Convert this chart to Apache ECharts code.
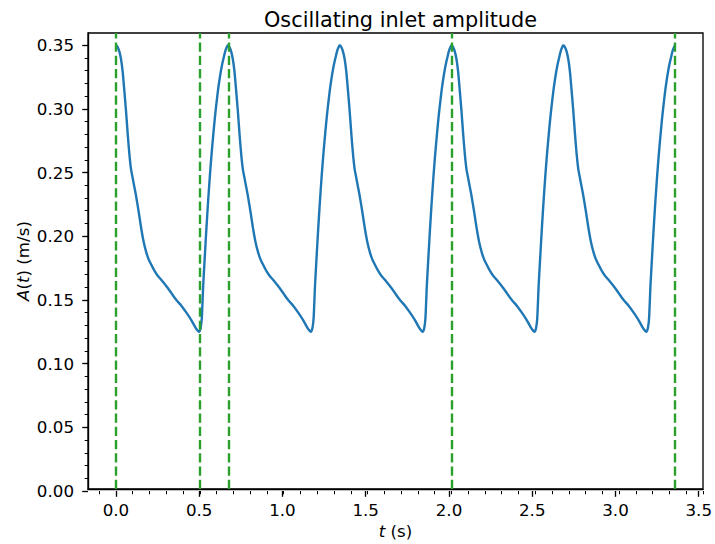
<!DOCTYPE html>
<html>
<head>
<meta charset="utf-8">
<script src="https://cdn.jsdelivr.net/npm/echarts@6/dist/echarts.min.js"></script>
<style>html,body{margin:0;padding:0;background:#fff;}#c{width:715px;height:544px;}</style>
</head>
<body>
<div id="c"></div>
<script>
// One cycle of the waveform (phase in s, amplitude in m/s)
const cyclePhase = [0.000,0.010,0.020,0.030,0.040,0.050,0.060,0.070,0.080,0.090,0.100,0.110,0.120,0.135,0.150,0.165,0.180,0.195,0.210,0.230,0.250,0.270,0.300,0.330,0.360,0.390,0.420,0.450,0.475,0.490,0.497,0.505,0.512,0.520,0.530,0.540,0.550,0.560,0.570,0.580,0.590,0.600,0.610,0.620,0.632,0.644,0.655,0.6667];
const cycleValues = [0.350,0.3485,0.345,0.339,0.329,0.314,0.298,0.280,0.264,0.252,0.245,0.238,0.231,0.219,0.206,0.195,0.187,0.181,0.177,0.172,0.168,0.165,0.160,0.1545,0.149,0.1445,0.139,0.133,0.127,0.1245,0.124,0.127,0.135,0.160,0.184,0.207,0.228,0.247,0.264,0.279,0.293,0.305,0.316,0.325,0.334,0.341,0.3465,0.350];
// Start time of each repeated cycle
const cycleStarts = [0, 0.66667, 1.33333, 2.0, 2.66667];
// Green dashed vertical markers
const vlineTimes = [0, 0.5, 0.66667, 2.0, 3.33333];
// Axis limits and tick settings
const xLim = [-0.16667, 3.5];
const yLim = [0, 0.3595];
const xMajor = [0, 3.5, 0.5];
const xMinor = [-0.1, 3.5, 0.1];
const yMajor = [0, 0.35, 0.05];

const seriesData = [];
cycleStarts.forEach(function (s) {
  for (let i = 0; i < cyclePhase.length; i++) {
    seriesData.push([s + cyclePhase[i], cycleValues[i]]);
  }
});

const FONT = 'DejaVu Sans';
const W = 715, H = 544;
const G = {left: 88, right: 12, top: 33, bottom: 53};
const gw = W - G.left - G.right, gh = H - G.top - G.bottom;
const px = function (v) { return G.left + (v - xLim[0]) / (xLim[1] - xLim[0]) * gw; };
const py = function (v) { return G.top + gh - (v - yLim[0]) / (yLim[1] - yLim[0]) * gh; };

const BLACK = '#000';
const labelStyle = {color: BLACK, fontFamily: FONT, fontSize: 16.7};
const nameStyle = {fontFamily: FONT, fontSize: 16.7, color: BLACK,
  rich: {i: {fontFamily: FONT, fontSize: 16.7, fontStyle: 'italic', color: BLACK}}};

const chart = echarts.init(document.getElementById('c'), null, {renderer: 'svg'});
chart.setOption({
  animation: false,
  backgroundColor: '#fff',
  title: {
    text: 'Oscillating inlet amplitude',
    left: 259, top: 4,
    textStyle: {fontFamily: FONT, fontSize: 20.8, fontWeight: 'normal', color: BLACK}
  },
  grid: [
    {left: G.left, right: G.right, top: G.top, bottom: G.bottom, show: true, borderColor: BLACK, borderWidth: 1.33, backgroundColor: 'transparent'},
    {left: px(xMajor[0]), right: G.right, top: py(yMajor[1]), bottom: G.bottom},
    {left: px(xMinor[0]), right: G.right, top: G.top, bottom: G.bottom}
  ],
  xAxis: [
    {
      gridIndex: 0, type: 'value', min: xLim[0], max: xLim[1],
      name: '{i|t} (s)', nameLocation: 'middle', nameGap: 33, nameTextStyle: nameStyle,
      axisLine: {show: true, onZero: false, lineStyle: {color: BLACK, width: 1.33}},
      axisTick: {show: false}, minorTick: {show: false}, axisLabel: {show: false},
      splitLine: {show: false}
    },
    {
      gridIndex: 1, type: 'value', min: xMajor[0], max: xMajor[1], interval: xMajor[2],
      axisLine: {show: false, onZero: false},
      axisTick: {show: true, inside: false, length: 5.8, lineStyle: {color: BLACK, width: 1.33}},
      minorTick: {show: false}, splitLine: {show: false},
      axisLabel: Object.assign({margin: 10, formatter: function (v) { return v.toFixed(1); }}, labelStyle)
    },
    {
      gridIndex: 2, type: 'value', min: xMinor[0], max: xMinor[1], interval: xMinor[2],
      axisLine: {show: false, onZero: false},
      axisTick: {show: true, inside: false, length: 3.3, lineStyle: {color: BLACK, width: 1.0}},
      minorTick: {show: false}, splitLine: {show: false}, axisLabel: {show: false}
    }
  ],
  yAxis: [
    {
      gridIndex: 0, type: 'value', min: yLim[0], max: yLim[1],
      name: '{i|A}({i|t}) (m/s)', nameLocation: 'middle', nameGap: 57, nameTextStyle: nameStyle,
      axisLine: {show: true, onZero: false, lineStyle: {color: BLACK, width: 1.33}},
      axisTick: {show: false}, minorTick: {show: false}, axisLabel: {show: false},
      splitLine: {show: false}
    },
    {
      gridIndex: 1, type: 'value', min: yMajor[0], max: yMajor[1], interval: yMajor[2],
      offset: px(xMajor[0]) - G.left,
      axisLine: {show: false, onZero: false},
      axisTick: {show: true, inside: false, length: 5.8, lineStyle: {color: BLACK, width: 1.33}},
      minorTick: {show: true, splitNumber: 5, length: 3.3, lineStyle: {color: BLACK, width: 1.0}},
      splitLine: {show: false}, minorSplitLine: {show: false},
      axisLabel: Object.assign({margin: 14, formatter: function (v) { return v.toFixed(2); }}, labelStyle)
    },
    {
      gridIndex: 2, type: 'value', min: 0, max: 1, show: false
    }
  ],
  series: [
    {
      type: 'line', xAxisIndex: 0, yAxisIndex: 0, data: seriesData, showSymbol: false, smooth: 0.2,
      lineStyle: {color: '#1f77b4', width: 2.4}, z: 2
    },
    {
      type: 'line', xAxisIndex: 0, yAxisIndex: 0, data: [], z: 3,
      markLine: {
        silent: true, symbol: ['none', 'none'], label: {show: false},
        lineStyle: {color: '#2ca02c', width: 2.4, type: [9.25, 4.0]},
        data: vlineTimes.map(function (t) { return {xAxis: t}; })
      }
    }
  ]
});
</script>
</body>
</html>
